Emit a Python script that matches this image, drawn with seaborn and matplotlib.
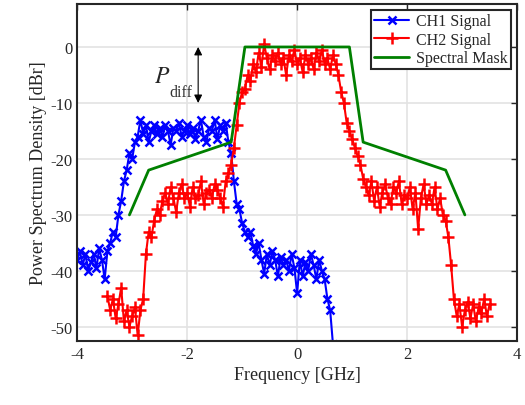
import numpy as np
import pandas as pd
import matplotlib
matplotlib.use('Agg')
import matplotlib.pyplot as plt
import seaborn as sns

# CH1 sinyali (-4.00 .. 0.65 GHz, 0.05 adım)
ch1_start, ch1_stop = -4.00, 0.65
ch1_db = [-38, -36.5, -39, -37, -40, -38.5, -37, -39.5, -36, -38,
          -41.5, -36.5, -35, -33, -34, -30, -27.5, -24, -22, -19,
          -20, -17, -16, -13, -15.5, -14, -17, -15, -14, -15.5,
          -14.5, -16, -14, -15, -17.5, -14.5, -15, -13.5, -16, -15,
          -14, -15.5, -14.5, -16.5, -15, -13, -16, -17, -14.5, -15,
          -13, -16.5, -14, -15, -13.5, -17, -19, -24, -28, -29,
          -31.5, -33, -34, -33, -35.5, -37, -35, -38, -40.5, -37,
          -39, -36.5, -38, -41, -37.5, -39, -38, -40, -37, -39.5,
          -44, -38, -41, -38.5, -40, -37, -39, -41.5, -38, -40,
          -41.5, -45, -47, -53]

# CH2 sinyali (-3.45 .. 3.50 GHz, 0.05 adım)
ch2_start, ch2_stop = -3.45, 3.50
ch2_db = [-44.5, -47, -45, -48.5, -46, -43, -49, -47, -50, -48,
          -46.5, -51.5, -47, -45, -37, -33, -34, -31, -29, -30,
          -27.5, -26, -28, -25, -27, -29.5, -26, -24.5, -27, -26,
          -28.5, -25, -27, -26.5, -24, -28, -26, -25.5, -27, -24.5,
          -25.5, -27, -28.5, -24, -22.5, -21, -18, -14, -10, -8,
          -7.5, -5, -6, -3, -4.5, -1, -3.5, 0.5, -2, -4,
          -1.5, -2.5, -1, -3, -2, -5, -1.5, -2.5, -0.5, -3,
          -2, -4.5, -1.5, -3, -2, -4, -1, -2.5, -0.5, -3,
          -2, -4, -1.5, -3, -5, -8, -10, -13.5, -15, -16.5,
          -18, -19.5, -21, -23.5, -25, -26.5, -24, -27.5, -25, -28.5,
          -26, -24.5, -27, -28, -25, -26, -24, -28, -26.5, -27,
          -25, -29, -26, -32.5, -27, -24.5, -28, -26.5, -28, -25,
          -29, -27, -30, -31, -34, -39, -45, -48, -46, -50,
          -47, -45.5, -48.5, -46, -49, -46.5, -47.5, -45, -48, -46]

# Spektral maske köşe noktaları
mask_f = [-3.05, -2.7, -1.2, -0.95, 0.95, 1.2, 2.7, 3.05]
mask_db = [-30, -22, -17, 0, 0, -17, -22, -30]

df1 = pd.DataFrame({'f': np.linspace(ch1_start, ch1_stop, len(ch1_db)), 'p': ch1_db})
df2 = pd.DataFrame({'f': np.linspace(ch2_start, ch2_stop, len(ch2_db)), 'p': ch2_db})
dfm = pd.DataFrame({'f': mask_f, 'p': mask_db})

sns.set_style('whitegrid')
plt.rcParams['font.family'] = ['Liberation Serif', 'DejaVu Serif']
plt.rcParams['mathtext.fontset'] = 'stix'
plt.rcParams['axes.unicode_minus'] = False

fig = plt.figure(figsize=(5.25, 4.06), dpi=100)
ax = fig.add_axes([0.147, 0.158, 0.838, 0.830])

sns.lineplot(data=df1, x='f', y='p', ax=ax, color='blue', marker='x', markersize=5.5,
             markeredgecolor='blue', markeredgewidth=1.8, linewidth=1.5,
             sort=False, label='CH1 Signal')
sns.lineplot(data=df2, x='f', y='p', ax=ax, color='red', marker='+', markersize=8,
             markeredgecolor='red', markeredgewidth=1.8, linewidth=1.5,
             sort=False, label='CH2 Signal')
sns.lineplot(data=dfm, x='f', y='p', ax=ax, color='green', linewidth=2,
             sort=False, label='Spectral Mask')

# P_diff oku
ax.annotate('', xy=(-1.8, 0.5), xytext=(-1.8, -10.5),
            arrowprops=dict(arrowstyle='<|-|>', color='black', lw=0.8,
                            mutation_scale=12))
ax.text(-2.31, -5.3, r'$P$', fontsize=17, ha='right', va='center')
ax.text(-2.33, -8.0, 'diff', fontsize=11.5, ha='left', va='center', color='#333333')

ax.set_xlim(-4, 4)
ax.set_ylim(-52.5, 7.7)
ax.set_xticks([-4, -2, 0, 2, 4])
ax.set_yticks([0, -10, -20, -30, -40, -50])
ax.set_xlabel('Frequency [GHz]', fontsize=13, color='#262626', labelpad=3)
ax.set_ylabel('Power Spectrum Density [dBr]', fontsize=13, color='#262626', labelpad=2)
ax.tick_params(axis='both', labelsize=12, colors='#262626', direction='in',
               length=4, width=1, top=True, right=True)
ax.grid(True, color='#e3e3e3', linewidth=1.2)
for s in ax.spines.values():
    s.set_edgecolor('#262626')
    s.set_linewidth(1.5)

leg = ax.legend(loc='upper right', fontsize=11.5, frameon=True, fancybox=False,
                borderpad=0.2, labelspacing=0.15, handlelength=2.2,
                handletextpad=0.4, borderaxespad=0.4, framealpha=1)
leg.get_frame().set_edgecolor('#262626')
leg.get_frame().set_linewidth(1.5)

plt.savefig('out.png', dpi=100)
